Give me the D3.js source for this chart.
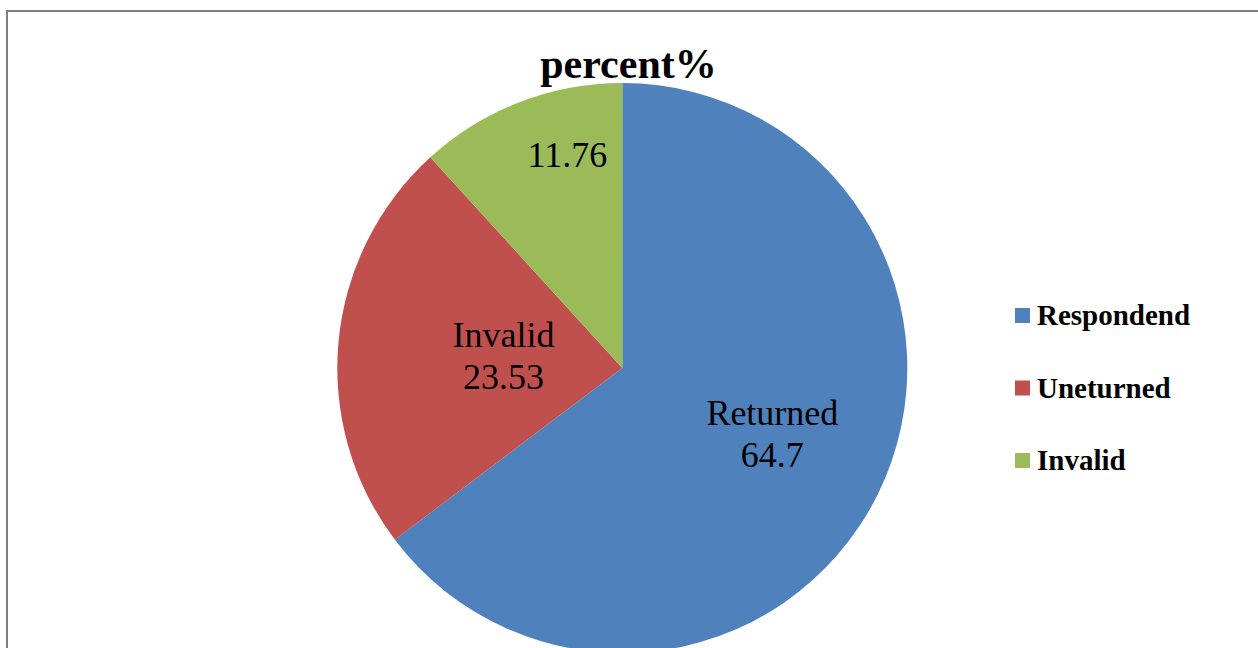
<!DOCTYPE html>
<html>
<head>
<meta charset="utf-8">
<script src="https://cdn.jsdelivr.net/npm/d3@7"></script>
<style>
  html, body { margin: 0; padding: 0; background: #ffffff; overflow: hidden; }
  svg { display: block; }
</style>
</head>
<body>
<svg id="chart" width="1258" height="648"></svg>
<script>
// Survey return breakdown (percent)
const sliceNames = ["Returned", "Invalid", ""];
const sliceValues = [64.7, 23.53, 11.76];
const legendLabels = ["Respondend", "Uneturned", "Invalid"];
const titleText = "percent%";

const colors = ["#4F81BD", "#C0504D", "#9BBB59"];

const svg = d3.select("#chart");
const W = 1258, H = 648;

// chart frame
svg.append("rect")
  .attr("x", 7).attr("y", 11)
  .attr("width", 1300).attr("height", 700)
  .attr("fill", "#ffffff")
  .attr("stroke", "#7f7f7f")
  .attr("stroke-width", 2);

const cx = 622.3, cy = 368, radius = 285;

const pie = d3.pie().sort(null).value(d => d)
  .startAngle(0).endAngle(2 * Math.PI);
const arcs = pie(sliceValues);
const arc = d3.arc().innerRadius(0).outerRadius(radius);

const g = svg.append("g").attr("transform", `translate(${cx},${cy})`);

g.selectAll("path.slice")
  .data(arcs)
  .join("path")
  .attr("class", "slice")
  .attr("d", arc)
  .attr("fill", (d, i) => colors[i]);

// data labels: placed relative to each slice centroid
const labelNudge = [[22.5, -6.6], [23, -7.8], [-3.5, -68]];
const lineGap = 42;
const labels = g.selectAll("text.lbl")
  .data(arcs)
  .join("text")
  .attr("class", "lbl")
  .attr("font-family", "'Liberation Serif', 'Times New Roman', serif")
  .attr("font-size", 36)
  .attr("fill", "#000000")
  .attr("text-anchor", "middle")
  .attr("transform", (d, i) => {
    const c = arc.centroid(d);
    return `translate(${c[0] + labelNudge[i][0]},${c[1] + labelNudge[i][1]})`;
  });

labels.each(function(d, i) {
  const t = d3.select(this);
  const lines = [];
  if (sliceNames[i]) lines.push(sliceNames[i]);
  lines.push(String(sliceValues[i]));
  lines.forEach((ln, k) => {
    t.append("tspan").attr("x", 0).attr("y", k * lineGap).text(ln);
  });
});

// title
svg.append("text")
  .attr("x", 628.5).attr("y", 78)
  .attr("text-anchor", "middle")
  .attr("font-family", "'Liberation Serif', 'Times New Roman', serif")
  .attr("font-weight", "bold")
  .attr("font-size", 42)
  .attr("fill", "#000000")
  .text(titleText);

// legend
const legY = d3.scalePoint().domain(legendLabels).range([325, 470]);
const legend = svg.append("g");
const items = legend.selectAll("g.item")
  .data(legendLabels)
  .join("g")
  .attr("class", "item")
  .attr("transform", d => `translate(1015,${legY(d)})`);

items.append("rect")
  .attr("x", 0).attr("y", -17)
  .attr("width", 15).attr("height", 15)
  .attr("fill", (d, i) => colors[i]);

items.append("text")
  .attr("x", 22).attr("y", 0)
  .attr("font-family", "'Liberation Serif', 'Times New Roman', serif")
  .attr("font-weight", "bold")
  .attr("font-size", 29)
  .attr("fill", "#000000")
  .text(d => d);
</script>
</body>
</html>
